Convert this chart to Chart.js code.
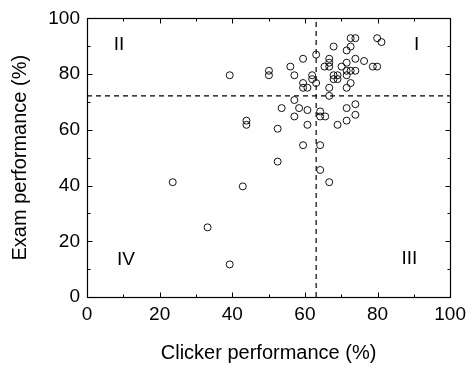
<!DOCTYPE html>
<html>
<head>
<meta charset="utf-8">
<script src="https://cdn.jsdelivr.net/npm/chart.js@4/dist/chart.umd.min.js"></script>
<style>
html,body{margin:0;padding:0;background:#fff;}
canvas{display:block;}
</style>
</head>
<body>
<canvas id="c" width="472" height="369"></canvas>
<script>
const clickerScores = [23.6,33.2,39.3,42.9,39.3,43.9,43.9,50.1,50.1,52.5,52.5,53.6,56.0,57.1,57.1,57.1,58.4,59.5,59.5,59.5,59.5,60.7,60.7,60.7,62.0,62.0,63.1,63.1,64.2,64.2,64.2,64.2,65.6,66.7,65.4,66.7,66.7,66.7,66.7,66.7,67.9,67.9,67.9,69.0,69.0,69.0,70.1,71.5,71.5,71.5,71.5,71.5,71.5,71.5,72.6,72.6,72.6,72.6,73.9,73.9,73.9,73.9,73.9,76.3,78.7,79.9,79.9,81.1];
const examScores = [41.2,25.0,11.7,39.7,79.6,63.3,61.8,81.2,79.6,60.4,48.6,67.8,82.7,79.6,70.7,64.8,67.8,85.5,76.8,75.1,54.5,75.1,67.1,61.8,79.6,78.2,87.0,76.8,66.6,64.8,54.5,45.6,64.8,41.2,82.7,85.5,84.1,82.7,75.1,72.2,89.9,79.6,78.2,79.6,78.2,61.8,82.7,88.5,84.1,81.2,79.6,75.1,67.8,63.3,92.9,89.9,81.2,76.8,92.9,85.5,81.2,69.2,65.4,84.7,82.7,82.7,92.9,91.5];
const clickerCutoff = 63.1;
const examCutoff = 72.2;
const axisMin = 0, axisMax = 100, minorStep = 10, labelStep = 20;
const quadrantNames = ['I','II','III','IV'];
const quadrantX = [90.8, 8.8, 88.8, 10.7];
const quadrantY = [90.6, 90.6, 13.9, 13.3];
const xTitle = 'Clicker performance (%)';
const yTitle = 'Exam performance (%)';

const FONT = '"Liberation Sans", Arial, sans-serif';

const points = clickerScores.map((x, i) => ({x, y: examScores[i]}));

const framePlugin = {
  id: 'frame',
  afterDraw(chart) {
    const {ctx, chartArea: a, scales: {x, y}} = chart;
    ctx.save();
    ctx.strokeStyle = '#000';
    ctx.lineWidth = 1.2;
    const L = Math.round(a.left) + 0.5, R = Math.round(a.right) + 0.5;
    const T = Math.round(a.top) + 0.5, B = Math.round(a.bottom) + 0.5;
    ctx.strokeRect(L, T, R - L, B - T);
    ctx.lineWidth = 1;
    ctx.beginPath();
    for (let v = axisMin; v <= axisMax; v += minorStep) {
      const len = (v % labelStep === 0) ? 5 : 3;
      const px = Math.round(x.getPixelForValue(v)) + 0.5;
      ctx.moveTo(px, B); ctx.lineTo(px, B - len);
      ctx.moveTo(px, T); ctx.lineTo(px, T + len);
      const py = Math.round(y.getPixelForValue(v)) + 0.5;
      ctx.moveTo(L, py); ctx.lineTo(L + len, py);
      ctx.moveTo(R, py); ctx.lineTo(R - len, py);
    }
    ctx.stroke();
    ctx.fillStyle = '#000';
    ctx.font = '19px ' + FONT;
    ctx.textAlign = 'center';
    ctx.textBaseline = 'middle';
    quadrantNames.forEach((n, i) => {
      ctx.fillText(n, x.getPixelForValue(quadrantX[i]), y.getPixelForValue(quadrantY[i]));
    });
    ctx.restore();
  }
};

new Chart(document.getElementById('c'), {
  type: 'scatter',
  data: {
    datasets: [
      {
        data: points,
        pointRadius: 3.5,
        pointHoverRadius: 3.5,
        pointBorderWidth: 1,
        borderColor: '#111',
        backgroundColor: 'rgba(0,0,0,0)',
        pointStyle: 'circle'
      },
      {
        data: [{x: clickerCutoff, y: axisMin}, {x: clickerCutoff, y: axisMax}],
        showLine: true, pointRadius: 0, borderColor: '#000', borderWidth: 1.2, borderDash: [5, 4]
      },
      {
        data: [{x: axisMin, y: examCutoff}, {x: axisMax, y: examCutoff}],
        showLine: true, pointRadius: 0, borderColor: '#000', borderWidth: 1.2, borderDash: [5, 4]
      }
    ]
  },
  options: {
    responsive: false,
    animation: false,
    devicePixelRatio: 1,
    layout: {padding: {top: 16, right: 19, left: 0, bottom: 0}},
    plugins: {legend: {display: false}, tooltip: {enabled: false}},
    scales: {
      x: {
        type: 'linear', min: axisMin, max: axisMax,
        grid: {display: false, drawTicks: false},
        border: {display: false},
        ticks: {
          stepSize: minorStep, autoSkip: false, maxRotation: 0, padding: 6,
          color: '#000', font: {family: FONT, size: 19},
          callback: v => (v % labelStep === 0 ? String(v) : '')
        },
        title: {display: true, text: xTitle, color: '#000', font: {family: FONT, size: 20}, padding: {top: 0, bottom: 4}},
        afterFit: s => { s.height = 72; }
      },
      y: {
        type: 'linear', min: axisMin, max: axisMax,
        grid: {display: false, drawTicks: false},
        border: {display: false},
        ticks: {
          stepSize: minorStep, autoSkip: false, padding: 7,
          color: '#000', font: {family: FONT, size: 19},
          callback: v => (v % labelStep === 0 ? String(v) : '')
        },
        title: {display: true, text: yTitle, color: '#000', font: {family: FONT, size: 20}, padding: {top: 8, bottom: 0}},
        afterFit: s => { s.width = 87; }
      }
    }
  },
  plugins: [framePlugin]
});
</script>
</body>
</html>
